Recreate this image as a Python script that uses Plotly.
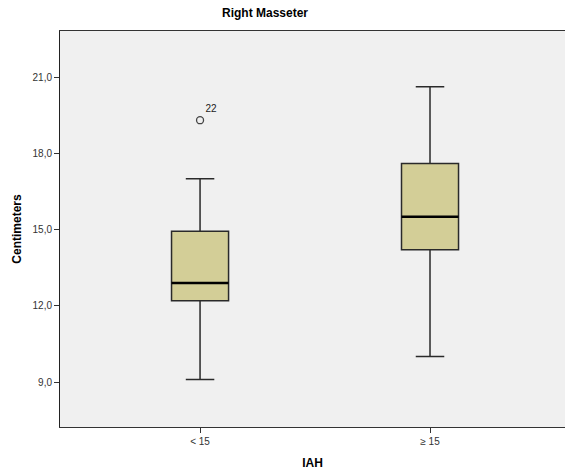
import plotly.graph_objects as go

categories = ["< 15", "≥ 15"]
lower = [9.1, 10.0]
q1 = [12.2, 14.2]
median = [12.9, 15.5]
q3 = [14.93, 17.6]
upper = [17.0, 20.62]
outlier_cat = ["< 15"]
outlier_val = [19.3]
outlier_lab = ["22"]
ytick_vals = [9, 12, 15, 18, 21]
ytick_text = ["9,0", "12,0", "15,0", "18,0", "21,0"]

fig = go.Figure()
fig.add_trace(go.Box(
    x=categories, q1=q1, median=median, q3=q3,
    lowerfence=lower, upperfence=upper,
    fillcolor="#d3ce97", line=dict(color="#2a2a2a", width=1.5),
    width=0.248, whiskerwidth=0.5, boxpoints=False, hoverinfo="skip",
))
fig.add_trace(go.Box(
    x=categories, q1=median, median=median, q3=median,
    lowerfence=median, upperfence=median,
    fillcolor="rgba(0,0,0,0)", line=dict(color="#000000", width=2.5),
    width=0.248, whiskerwidth=0, boxpoints=False, hoverinfo="skip",
))
fig.add_trace(go.Scatter(
    x=outlier_cat, y=outlier_val, mode="markers+text",
    text=outlier_lab, textposition="top right",
    textfont=dict(family="Liberation Sans, Arial", size=10, color="#222"),
    marker=dict(symbol="circle-open", size=7, color="#444",
                line=dict(width=1.3, color="#444")),
))

fig.update_layout(
    width=565, height=472,
    margin=dict(l=60, r=0, t=31, b=45),
    paper_bgcolor="white", plot_bgcolor="#f0f0f0",
    showlegend=False, boxmode="overlay",
    title=dict(text="<b>Right Masseter</b>", x=265 / 565, xanchor="center",
               y=1 - 13 / 472, yanchor="middle",
               font=dict(family="Liberation Sans, Arial", size=12, color="#000")),
    font=dict(family="Liberation Sans, Arial", size=10, color="#333"),
)
fig.update_xaxes(
    type="category", range=[-0.609, 1.587],
    showgrid=False, zeroline=False,
    showline=True, linecolor="#333", linewidth=1, mirror=True,
    ticks="outside", ticklen=5, tickcolor="#333",
    tickfont=dict(size=10, color="#333"),
    title=dict(text="<b>IAH</b>", standoff=12,
               font=dict(family="Liberation Sans, Arial", size=12, color="#000")),
)
fig.update_yaxes(
    range=[7.23, 22.81], tickvals=ytick_vals, ticktext=ytick_text,
    showgrid=False, zeroline=False,
    showline=True, linecolor="#222", linewidth=1, mirror=False,
    ticks="outside", ticklen=5, tickcolor="#333",
    tickfont=dict(size=10, color="#333"),
    title=dict(text="<b>Centimeters</b>", standoff=8,
               font=dict(family="Liberation Sans, Arial", size=12, color="#000")),
)
fig.write_html("out.html")
